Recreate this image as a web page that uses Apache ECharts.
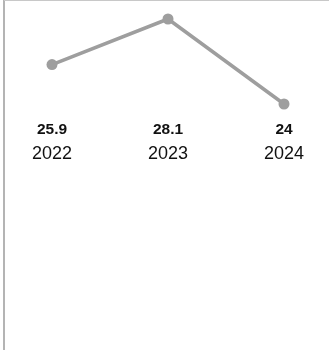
<!DOCTYPE html>
<html>
<head>
<meta charset="utf-8">
<script src="https://cdn.jsdelivr.net/npm/echarts@6/dist/echarts.min.js"></script>
<style>
  html, body { margin: 0; padding: 0; background: #fff; }
  #chart { width: 329px; height: 350px; }
</style>
</head>
<body>
<div id="chart"></div>
<script>
// данные графика
const years = ['2022', '2023', '2024'];
const values = [25.9, 28.1, 24];

const chart = echarts.init(document.getElementById('chart'));

chart.setOption({
  animation: false,
  // рамка слева и сверху, как в исходнике
  graphic: [
    { type: 'line', shape: { x1: 4, y1: 0, x2: 4, y2: 350 }, style: { stroke: '#b4b4b4', lineWidth: 2 } },
    { type: 'line', shape: { x1: 4, y1: 0.5, x2: 329, y2: 0.5 }, style: { stroke: '#c8c8c8', lineWidth: 1 } },
  ],
  grid: { left: 52, right: 45, top: 19, height: 85 },
  xAxis: {
    type: 'category',
    data: years,
    boundaryGap: false,
    axisLine: { show: false },
    axisTick: { show: false },
    axisLabel: {
      margin: 14,
      interval: 0,
      formatter: (v, i) => `{v|${values[i]}}\n{y|${v}}`,
      rich: {
        v: { fontFamily: 'Liberation Sans', fontWeight: 'bold', fontSize: 15.5, color: '#111', lineHeight: 24 },
        y: { fontFamily: 'Liberation Sans', fontSize: 18, color: '#111', lineHeight: 24 },
      },
    },
  },
  yAxis: {
    type: 'value', min: 24, max: 28.1,
    show: false,
  },
  series: [{
    type: 'line',
    data: values,
    symbol: 'circle',
    symbolSize: 11,
    lineStyle: { color: '#9e9e9e', width: 3.5 },
    itemStyle: { color: '#9e9e9e' },
  }],
});
</script>
</body>
</html>
